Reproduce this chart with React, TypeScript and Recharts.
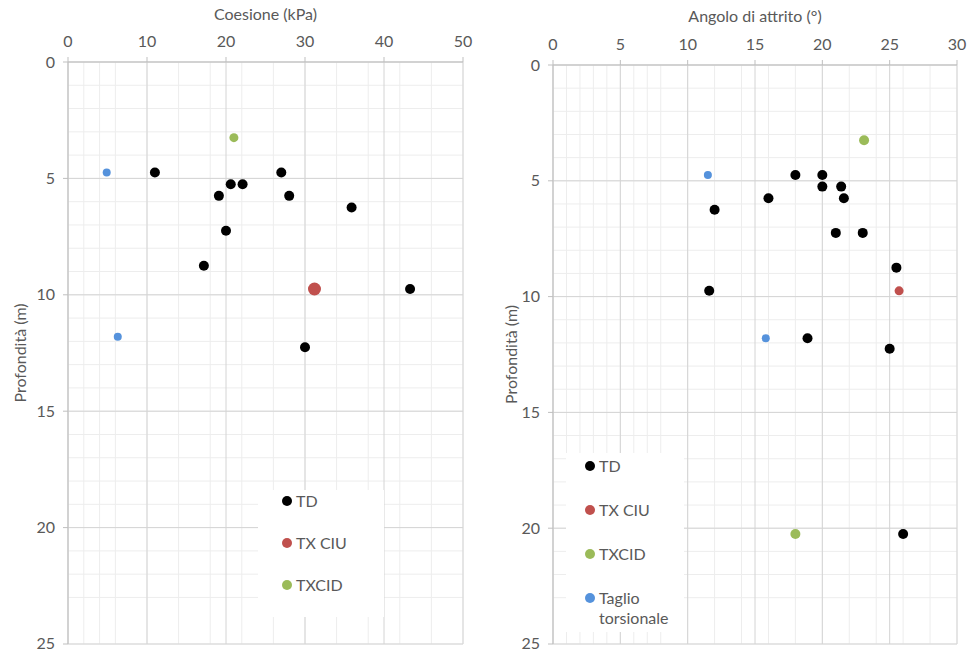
import React from 'react';
import { ScatterChart, Scatter, XAxis, YAxis, CartesianGrid, Legend } from 'recharts';

type Pt = { x: number; depth: number };

// depth axis (shared by both panels)
const depthTicks = [0, 5, 10, 15, 20, 25];

// Coesione (kPa) vs depth
const cohesionTicks = [0, 10, 20, 30, 40, 50];
const tdCohesion: Pt[] = [
  { x: 11, depth: 4.75 }, { x: 27, depth: 4.75 }, { x: 20.6, depth: 5.25 }, { x: 22.1, depth: 5.25 },
  { x: 19.1, depth: 5.75 }, { x: 28, depth: 5.75 }, { x: 35.9, depth: 6.25 }, { x: 20, depth: 7.25 },
  { x: 17.2, depth: 8.75 }, { x: 43.3, depth: 9.75 }, { x: 30, depth: 12.25 },
];
const ciuCohesion: Pt[] = [{ x: 31.2, depth: 9.75 }];
const cidCohesion: Pt[] = [{ x: 21, depth: 3.25 }];
const torsionCohesion: Pt[] = [{ x: 4.9, depth: 4.75 }, { x: 6.3, depth: 11.8 }];

// Angolo di attrito (°) vs depth
const frictionTicks = [0, 5, 10, 15, 20, 25, 30];
const tdFriction: Pt[] = [
  { x: 18, depth: 4.75 }, { x: 20, depth: 4.75 }, { x: 20, depth: 5.25 }, { x: 21.4, depth: 5.25 },
  { x: 16, depth: 5.75 }, { x: 21.6, depth: 5.75 }, { x: 12, depth: 6.25 }, { x: 21, depth: 7.25 },
  { x: 23, depth: 7.25 }, { x: 25.5, depth: 8.75 }, { x: 11.6, depth: 9.75 }, { x: 18.9, depth: 11.8 },
  { x: 25, depth: 12.25 }, { x: 26, depth: 20.25 },
];
const ciuFriction: Pt[] = [{ x: 25.7, depth: 9.75 }];
const cidFriction: Pt[] = [{ x: 23.1, depth: 3.25 }, { x: 18, depth: 20.25 }];
const torsionFriction: Pt[] = [{ x: 11.5, depth: 4.75 }, { x: 15.8, depth: 11.8 }];

const BLACK = '#000000';
const RED = '#c0504d';
const GREEN = '#9bbb59';
const BLUE = '#5592dc';
const TEXT = '#595959';

// minor grid steps
const steps = (max: number, step: number) => {
  const out: number[] = [];
  for (let v = 0; v <= max + 1e-9; v += step) out.push(+v.toFixed(4));
  return out;
};

type Series = { name: string; color: string; r: number; data: Pt[]; hidden?: boolean };

type LegendCfg = {
  left: number; top: number; width: number; height: number;
  padLeft: number; padTop: number; lineHeight: number; gap: number;
};

const dot = (r: number, color: string) => (props: any) =>
  <circle cx={props.cx} cy={props.cy} r={r} fill={color} />;

function LegendBox({ payload, cfg }: { payload?: any[]; cfg: LegendCfg }) {
  const items = (payload || []).filter((p: any) => p.type !== 'none');
  return (
    <div style={{
      background: '#fff', width: cfg.width, height: cfg.height, boxSizing: 'border-box',
      paddingLeft: cfg.padLeft, paddingTop: cfg.padTop, color: TEXT, fontSize: 16,
      lineHeight: `${cfg.lineHeight}px`,
    }}>
      {items.map((p: any) => (
        <div key={p.value} style={{ display: 'flex', alignItems: 'flex-start', marginBottom: cfg.gap }}>
          <svg width={10} height={cfg.lineHeight} style={{ flex: 'none', marginRight: 4 }}>
            <circle cx={5} cy={cfg.lineHeight / 2} r={5} fill={p.color} />
          </svg>
          <span style={{ width: cfg.width - cfg.padLeft - 20 }}>{p.value}</span>
        </div>
      ))}
    </div>
  );
}

type PanelProps = {
  title: string; xMax: number; xTicks: number[]; xMinorStep: number;
  axisWidth: number; axisHeight: number; rightGap: number; yLabelOffset: number; titleOffset: number;
  series: Series[]; legend: LegendCfg;
};

function Panel(p: PanelProps) {
  const axisColor = '#bfbfbf';
  return (
    <ScatterChart width={484} height={652} margin={{ top: 0, right: p.rightGap, bottom: 8, left: 0 }}>
      <CartesianGrid stroke="#ededed" horizontalValues={steps(25, 1)} verticalValues={steps(p.xMax, p.xMinorStep)} />
      <CartesianGrid stroke="#d4d4d4" horizontalValues={depthTicks} verticalValues={p.xTicks} />
      <XAxis
        type="number" dataKey="x" orientation="top" domain={[0, p.xMax]} ticks={p.xTicks}
        height={p.axisHeight} tickSize={5} tickMargin={10}
        stroke={axisColor} tick={{ fill: TEXT, fontSize: 16 }}
        label={{ value: p.title, position: 'insideTop', offset: p.titleOffset, fill: TEXT, fontSize: 16 }}
      />
      <YAxis
        type="number" dataKey="depth" reversed domain={[0, 25]} ticks={depthTicks}
        width={p.axisWidth} tickSize={5} tickMargin={8}
        stroke={axisColor} tick={{ fill: TEXT, fontSize: 16 }}
        label={{
          value: 'Profondità (m)', angle: -90, position: 'insideLeft', offset: p.yLabelOffset,
          fill: TEXT, fontSize: 16, style: { textAnchor: 'middle' },
        }}
      />
      <Legend
        layout="vertical" align="center" verticalAlign="middle"
        wrapperStyle={{ left: p.legend.left, top: p.legend.top, width: p.legend.width, height: p.legend.height }}
        content={(props: any) => <LegendBox payload={props.payload} cfg={p.legend} />}
      />
      {p.series.map((s) => (
        <Scatter
          key={s.name} name={s.name} data={s.data} fill={s.color}
          shape={dot(s.r, s.color)} legendType={s.hidden ? 'none' : 'circle'}
          isAnimationActive={false}
        />
      ))}
    </ScatterChart>
  );
}

export default function App() {
  const cohesionSeries: Series[] = [
    { name: 'TD', color: BLACK, r: 5, data: tdCohesion },
    { name: 'TX CIU', color: RED, r: 6.5, data: ciuCohesion },
    { name: 'TXCID', color: GREEN, r: 4.5, data: cidCohesion },
    { name: 'Taglio torsionale', color: BLUE, r: 4, data: torsionCohesion, hidden: true },
  ];
  const frictionSeries: Series[] = [
    { name: 'TD', color: BLACK, r: 5, data: tdFriction },
    { name: 'TX CIU', color: RED, r: 4.5, data: ciuFriction },
    { name: 'TXCID', color: GREEN, r: 5, data: cidFriction },
    { name: 'Taglio torsionale', color: BLUE, r: 4, data: torsionFriction },
  ];

  return (
    <div style={{
      position: 'absolute', left: 0, top: 0, width: 968, height: 652, background: '#fff',
      fontFamily: 'Lato, "Open Sans", sans-serif',
    }}>
      <div style={{ position: 'absolute', left: 0, top: 0 }}>
        <Panel
          title="Coesione (kPa)" xMax={50} xTicks={cohesionTicks} xMinorStep={2}
          axisWidth={68} axisHeight={62} rightGap={21} yLabelOffset={20} titleOffset={9}
          series={cohesionSeries}
          legend={{ left: 258, top: 490, width: 126, height: 127, padLeft: 24, padTop: 0, lineHeight: 22, gap: 20 }}
        />
      </div>
      <div style={{ position: 'absolute', left: 484, top: 0 }}>
        <Panel
          title="Angolo di attrito (°)" xMax={30} xTicks={frictionTicks} xMinorStep={1}
          axisWidth={69} axisHeight={65} rightGap={11} yLabelOffset={27} titleOffset={11}
          series={frictionSeries}
          legend={{ left: 82, top: 453, width: 118, height: 179, padLeft: 19, padTop: 3, lineHeight: 20, gap: 24 }}
        />
      </div>
    </div>
  );
}
